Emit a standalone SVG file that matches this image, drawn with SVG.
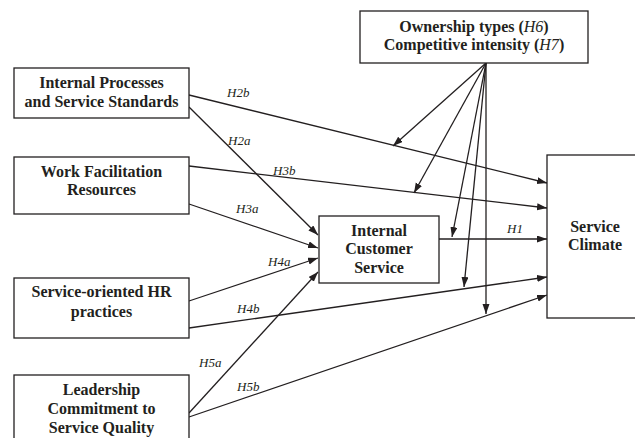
<svg xmlns="http://www.w3.org/2000/svg" width="635" height="438" viewBox="0 0 635 438">
<defs>
<marker id="ah" markerUnits="userSpaceOnUse" markerWidth="10" markerHeight="8" refX="10" refY="3.5" orient="auto">
<path d="M0,0 L10,3.5 L0,7 z" fill="#231f20"/>
</marker>
<style>
.box{fill:#fff;stroke:#231f20;stroke-width:1.3}
.t{font-family:"Liberation Serif","Times New Roman",serif;font-weight:bold;font-size:16px;fill:#231f20;text-anchor:middle}
.i{font-style:italic;font-weight:normal}
.lab{font-family:"Liberation Serif","Times New Roman",serif;font-style:italic;font-size:13px;fill:#231f20}
.c{stroke:#231f20;stroke-width:1.3;fill:none;marker-end:url(#ah)}
</style>
</defs>
<rect width="635" height="438" fill="#fff"/>
<g id="connectors">
<line class="c" x1="189" y1="95" x2="547" y2="183"/>
<line class="c" x1="189" y1="107" x2="318" y2="235"/>
<line class="c" x1="189" y1="166" x2="547" y2="208"/>
<line class="c" x1="189" y1="204" x2="318" y2="248"/>
<line class="c" x1="189" y1="301" x2="318" y2="258"/>
<line class="c" x1="189" y1="328" x2="547" y2="277"/>
<line class="c" x1="189" y1="413" x2="318" y2="272"/>
<line class="c" x1="189" y1="417" x2="547" y2="295"/>
<line class="c" x1="439" y1="239" x2="547" y2="239"/>
<line class="c" x1="486" y1="63" x2="393" y2="146"/>
<line class="c" x1="486" y1="63" x2="414" y2="193"/>
<line class="c" x1="486" y1="63" x2="452" y2="237"/>
<line class="c" x1="486" y1="63" x2="464" y2="287"/>
<line class="c" x1="486" y1="63" x2="486" y2="314"/>
<text class="lab" x="227" y="97">H2b</text>
<text class="lab" x="228" y="145">H2a</text>
<text class="lab" x="273" y="175">H3b</text>
<text class="lab" x="236" y="213">H3a</text>
<text class="lab" x="268" y="266">H4a</text>
<text class="lab" x="237" y="313">H4b</text>
<text class="lab" x="199" y="367">H5a</text>
<text class="lab" x="237" y="391">H5b</text>
<text class="lab" x="507" y="233">H1</text>
</g>
<g id="n-ipss">
<rect class="box" x="14" y="68" width="175" height="50"/>
<text class="t" x="101.5" y="88">Internal Processes</text>
<text class="t" x="101.5" y="107">and Service Standards</text>
</g>
<g id="n-wfr">
<rect class="box" x="14" y="157" width="175" height="57"/>
<text class="t" x="101.5" y="177">Work Facilitation</text>
<text class="t" x="101.5" y="195">Resources</text>
</g>
<g id="n-shr">
<rect class="box" x="14" y="278" width="175" height="60"/>
<text class="t" x="101.5" y="297">Service-oriented HR</text>
<text class="t" x="101.5" y="317">practices</text>
</g>
<g id="n-lead">
<rect class="box" x="14" y="375" width="175" height="75"/>
<text class="t" x="101.5" y="395">Leadership</text>
<text class="t" x="101.5" y="414">Commitment to</text>
<text class="t" x="101.5" y="433">Service Quality</text>
</g>
<g id="n-own">
<rect class="box" x="360" y="11" width="228" height="52"/>
<text class="t" x="474" y="32">Ownership types (<tspan class="i">H6</tspan>)</text>
<text class="t" x="474" y="50">Competitive intensity (<tspan class="i">H7</tspan>)</text>
</g>
<g id="n-ics">
<rect class="box" x="319" y="216" width="120" height="67"/>
<text class="t" x="379" y="236">Internal</text>
<text class="t" x="379" y="254">Customer</text>
<text class="t" x="379" y="273">Service</text>
</g>
<g id="n-sc">
<rect class="box" x="547" y="155" width="96" height="163"/>
<text class="t" x="595" y="232">Service</text>
<text class="t" x="595" y="250">Climate</text>
</g>
</svg>
